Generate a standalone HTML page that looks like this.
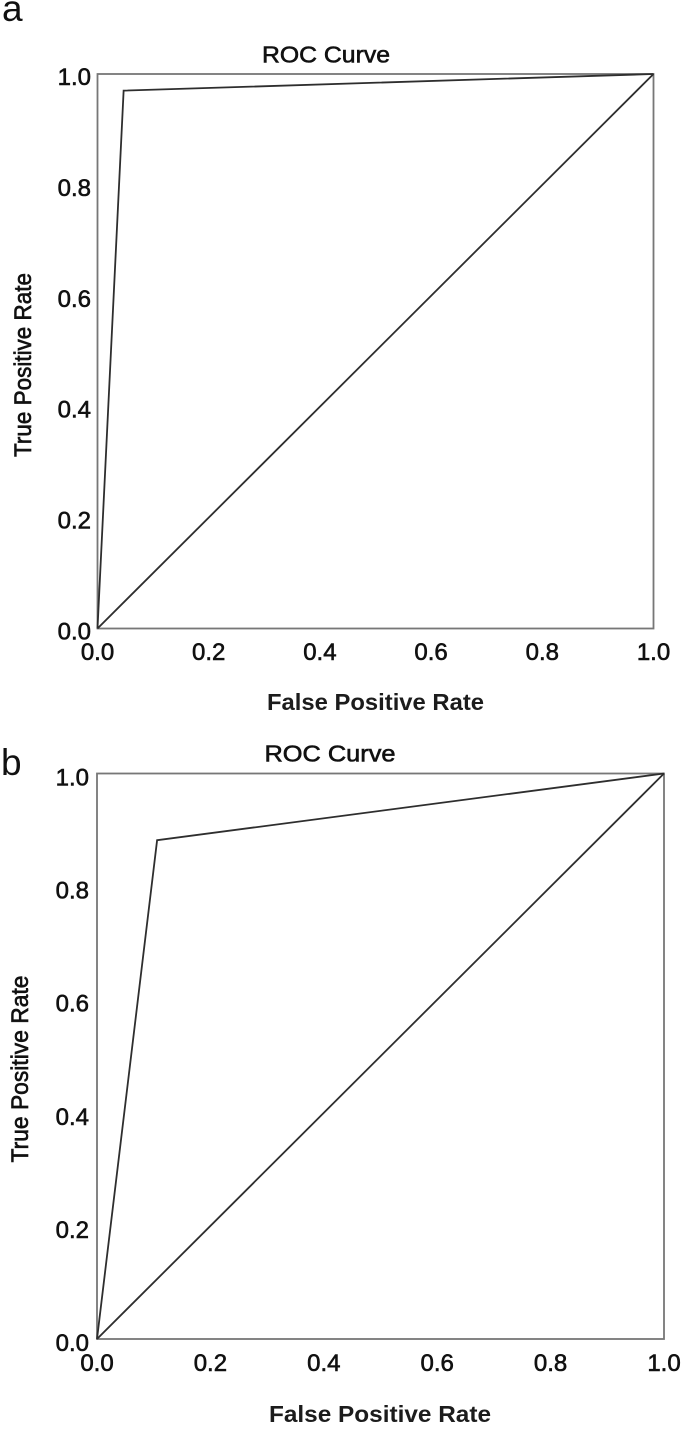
<!DOCTYPE html>
<html lang="en">
<head>
<meta charset="utf-8">
<title>ROC Curves</title>
<style>
html,body{margin:0;padding:0;background:#fff;}
svg{display:block;}
text{font-family:"Liberation Sans",Arial,sans-serif;fill:#111;}
.tick{font-size:24px;stroke:#111;stroke-width:.6px;}
.xaxis{font-size:23px;font-weight:bold;fill:#1c1c1c;}
.yaxis{font-size:24px;stroke:#111;stroke-width:.65px;}
.title{font-size:23px;stroke:#111;stroke-width:.6px;}
.panel{font-size:37px;}
</style>
</head>
<body>
<svg id="chart" width="685" height="1430" viewBox="0 0 685 1430" xmlns="http://www.w3.org/2000/svg"></svg>
<script>
const tickLabels = ["0.0", "0.2", "0.4", "0.6", "0.8", "1.0"];
const tickValues = [0, 0.2, 0.4, 0.6, 0.8, 1];
const rocAFpr = [0, 0.047, 1];
const rocATpr = [0, 0.97, 1];
const rocBFpr = [0, 0.106, 1];
const rocBTpr = [0, 0.882, 1];
const refFpr = [0, 1];
const refTpr = [0, 1];

const NS = "http://www.w3.org/2000/svg";
const svg = document.getElementById("chart");

function make(tag, attrs, parent) {
  const el = document.createElementNS(NS, tag);
  for (const k in attrs) el.setAttribute(k, attrs[k]);
  parent.appendChild(el);
  return el;
}

function drawPanel(cfg) {
  const g = make("g", {}, svg);
  
  
  const sx = v => cfg.left + v * (cfg.right - cfg.left);
  const sy = v => cfg.bottom - v * (cfg.bottom - cfg.top);

  const letter = make("text", {x: cfg.letterX, y: cfg.letterY, class: "panel"}, g);
  letter.textContent = cfg.letter;
  
  

  const title = make("text", {x: cfg.titleX, y: cfg.titleY, class: "title", "text-anchor": "middle", textLength: cfg.titleLen, lengthAdjust: "spacingAndGlyphs"}, g);
  title.textContent = "ROC Curve";
  
  

  const frame = make("rect", {x: sx(0), y: sy(1), width: sx(1) - sx(0), height: sy(0) - sy(1), fill: "none", stroke: "#777", "stroke-width": 1.8}, g);
  
  

  const ref = make("polyline", {
    points: refFpr.map((x, i) => sx(x) + "," + sy(refTpr[i])).join(" "),
    fill: "none", stroke: "#2e2e2e", "stroke-width": 1.8
  }, g);
  
  

  const curve = make("polyline", {
    points: cfg.fpr.map((x, i) => sx(x) + "," + sy(cfg.tpr[i])).join(" "),
    fill: "none", stroke: "#2e2e2e", "stroke-width": 1.8, "stroke-linejoin": "miter"
  }, g);
  
  

  tickValues.forEach((v, i) => {
    const xt = make("text", {x: sx(v), y: cfg.bottom + cfg.xTickDy, class: "tick", "text-anchor": "middle"}, g);
    xt.textContent = tickLabels[i];
    
    

    const yt = make("text", {x: cfg.yTickX, y: sy(v) + cfg.yTickDy, class: "tick", "text-anchor": "end"}, g);
    yt.textContent = tickLabels[i];
    
    
  });

  const xl = make("text", {x: cfg.xLabelX, y: cfg.xLabelY, class: "xaxis", "text-anchor": "middle", textLength: cfg.xLabelLen, lengthAdjust: "spacingAndGlyphs"}, g);
  xl.textContent = "False Positive Rate";
  
  

  const yl = make("text", {
    x: 0, y: 0, class: "yaxis", "text-anchor": "middle", textLength: cfg.yLabelLen, lengthAdjust: "spacingAndGlyphs",
    transform: "translate(" + cfg.yLabelX + "," + cfg.yLabelY + ") rotate(-90)"
  }, g);
  yl.textContent = "True Positive Rate";
  
  
}

drawPanel({
  id: "a", letter: "a", letterX: 2, letterY: 21,
  left: 97.5, right: 653.5, top: 74, bottom: 628.5,
  fpr: rocAFpr, tpr: rocATpr,
  titleX: 326, titleY: 62.5, titleLen: 128, xTickDy: 31.5, yTickX: 91, yTickDy: 11,
  xLabelX: 375.5, xLabelY: 710, xLabelLen: 217, yLabelX: 31, yLabelY: 365, yLabelLen: 184
});
drawPanel({
  id: "b", letter: "b", letterX: 1, letterY: 775,
  left: 97, right: 664, top: 773.5, bottom: 1339,
  fpr: rocBFpr, tpr: rocBTpr,
  titleX: 330, titleY: 761.5, titleLen: 131, xTickDy: 32, yTickX: 89, yTickDy: 12,
  xLabelX: 380, xLabelY: 1422, xLabelLen: 222, yLabelX: 28, yLabelY: 1069, yLabelLen: 187
});
</script>
</body>
</html>
